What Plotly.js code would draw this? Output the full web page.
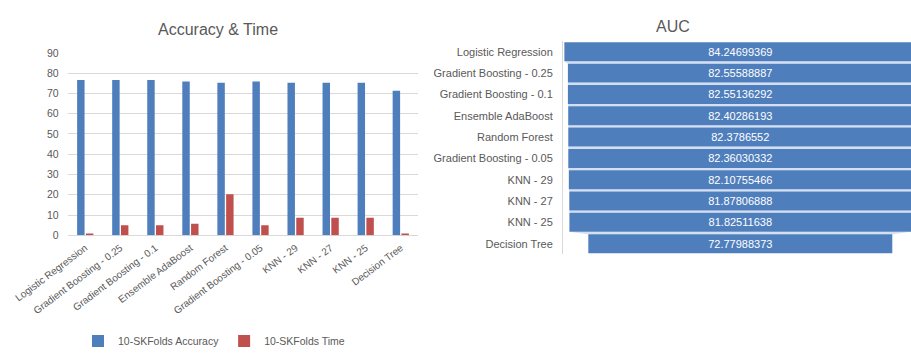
<!DOCTYPE html>
<html>
<head>
<meta charset="utf-8">
<script src="https://cdn.plot.ly/plotly-3.0.1.min.js"></script>
<style>
  html, body { margin: 0; padding: 0; background: #ffffff; overflow: hidden; }
  #chart { width: 911px; height: 356px; }
</style>
</head>
<body>
<div id="chart"></div>
<script>
// Models compared, in ranking order
const models = [
  'Logistic Regression',
  'Gradient Boosting - 0.25',
  'Gradient Boosting - 0.1',
  'Ensemble AdaBoost',
  'Random Forest',
  'Gradient Boosting - 0.05',
  'KNN - 29',
  'KNN - 27',
  'KNN - 25',
  'Decision Tree'
];

// 10-fold stratified CV accuracy (%) and run time
const accuracy = [76.6, 76.6, 76.6, 75.9, 75.3, 75.9, 75.3, 75.3, 75.3, 71.3];
const runTime  = [0.9, 5.0, 5.0, 5.7, 20.3, 5.0, 8.6, 8.6, 8.6, 0.9];

// Area under the ROC curve per model
const auc = [84.24699369, 82.55588887, 82.55136292, 82.40286193, 82.3786552,
             82.36030332, 82.10755466, 81.87806888, 81.82511638, 72.77988373];

// Left axis ticks
const accTicks = [0, 10, 20, 30, 40, 50, 60, 70, 80, 90];

const W = 911, H = 356;
const FONT = '"Liberation Sans", Arial, sans-serif';
const GREY = '#595959';
const GRID = '#d9d9d9';
const BLUE = '#4f7ebd';
const RED = '#c0504d';

const px = v => v / W;
const py = v => 1 - v / H;

const traces = [
  {
    type: 'bar', name: '10-SKFolds Accuracy',
    x: models, y: accuracy,
    marker: { color: BLUE },
    xaxis: 'x', yaxis: 'y', hoverinfo: 'x+y'
  },
  {
    type: 'bar', name: '10-SKFolds Time',
    x: models, y: runTime,
    marker: { color: RED },
    xaxis: 'x', yaxis: 'y', hoverinfo: 'x+y'
  },
  {
    type: 'funnel', name: 'AUC', showlegend: false,
    orientation: 'h',
    y: models, x: auc,
    text: auc.map(v => String(v)),
    textinfo: 'text',
    textposition: 'inside',
    insidetextanchor: 'middle',
    textfont: { family: FONT, size: 11, color: '#ffffff' },
    marker: { color: BLUE },
    connector: { visible: true, fillcolor: '#d3dff0', line: { width: 0 } },
    xaxis: 'x2', yaxis: 'y2', hoverinfo: 'y+x'
  }
];

const layout = {
  width: W, height: H, autosize: false,
  margin: { l: 0, r: 0, t: 0, b: 0 },
  paper_bgcolor: '#ffffff', plot_bgcolor: '#ffffff',
  font: { family: FONT, color: GREY, size: 11 },
  bargap: 0.5, bargroupgap: 0.15, barmode: 'group',
  funnelgap: 0.11,
  xaxis: {
    domain: [px(67.7), px(418.3)],
    anchor: 'y', type: 'category',
    tickangle: -37,
    ticks: '', ticklabelstandoff: 4,
    tickfont: { family: FONT, size: 10, color: GREY },
    showgrid: false, showline: false, zeroline: false
  },
  yaxis: {
    domain: [py(237.3), py(53.3)],
    anchor: 'x',
    range: [0, 90], autorange: false,
    tickvals: accTicks, ticktext: accTicks.map(String),
    ticks: '', ticklabelstandoff: 8,
    tickfont: { family: FONT, size: 10.5, color: GREY },
    showgrid: true, gridcolor: GRID, gridwidth: 1,
    zeroline: true, zerolinecolor: GRID, zerolinewidth: 1,
    showline: false
  },
  xaxis2: {
    domain: [px(563), 1],
    anchor: 'y2',
    range: [-42.45, 40.87], autorange: false,
    visible: false
  },
  yaxis2: {
    domain: [py(256.5), py(41.5)],
    anchor: 'x2', type: 'category',
    autorange: 'reversed',
    ticks: '', ticklabelstandoff: 7,
    tickfont: { family: FONT, size: 11, color: GREY },
    showgrid: false, zeroline: false,
    showline: true, linecolor: GRID, linewidth: 1
  },
  legend: {
    orientation: 'h',
    x: px(214), xanchor: 'center',
    y: py(344), yanchor: 'middle',
    font: { family: FONT, size: 10.5, color: GREY },
    itemwidth: 30, bgcolor: 'rgba(0,0,0,0)'
  },
  annotations: [
    {
      text: 'Accuracy &amp; Time', showarrow: false,
      xref: 'paper', yref: 'paper',
      x: px(218), y: py(30), xanchor: 'center', yanchor: 'middle',
      font: { family: FONT, size: 16, color: GREY }
    },
    {
      text: 'AUC', showarrow: false,
      xref: 'paper', yref: 'paper',
      x: px(673), y: py(27), xanchor: 'center', yanchor: 'middle',
      font: { family: FONT, size: 16, color: GREY }
    }
  ]
};

Plotly.newPlot('chart', traces, layout, { displayModeBar: false, staticPlot: true });
</script>
</body>
</html>
